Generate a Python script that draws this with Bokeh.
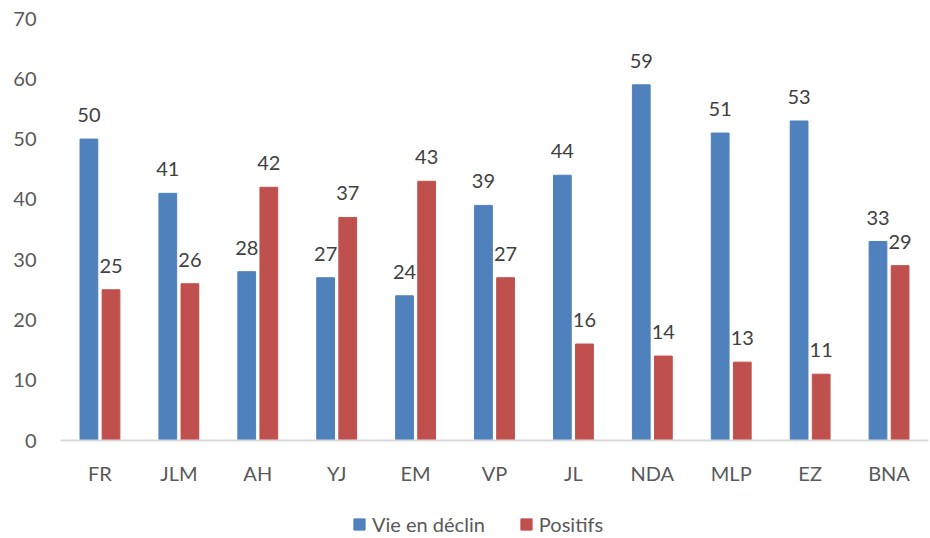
from bokeh.plotting import figure
from bokeh.layouts import column
from bokeh.models import FactorRange, Range1d, SingleIntervalTicker, Legend, LegendItem, ColumnDataSource
from bokeh.transform import dodge
from bokeh.core.properties import value
from bokeh.embed import file_html
from bokeh.resources import INLINE

categories = ["FR", "JLM", "AH", "YJ", "EM", "VP", "JL", "NDA", "MLP", "EZ", "BNA"]
vie_en_declin = [50, 41, 28, 27, 24, 39, 44, 59, 51, 53, 33]
positifs = [25, 26, 42, 37, 43, 27, 16, 14, 13, 11, 29]
series_names = ["Vie en déclin", "Positifs"]
y_ticks = [0, 10, 20, 30, 40, 50, 60, 70]

BLUE = "#4F81BD"
RED = "#C0504D"
FONT = "Lato"
FS = "20px"

src = ColumnDataSource(dict(
    cat=categories,
    v1=vie_en_declin,
    v2=positifs,
    t1=[str(v) for v in vie_en_declin],
    t2=[str(v) for v in positifs],
))

p = figure(width=930, height=500, x_range=FactorRange(*categories),
           y_range=Range1d(y_ticks[0], y_ticks[-1]),
           output_backend="svg", toolbar_location=None,
           min_border_left=60, min_border_right=2, min_border_top=18, min_border_bottom=60)
p.outline_line_color = None
p.xgrid.grid_line_color = None
p.ygrid.grid_line_color = None

p.vbar(x=dodge("cat", -0.14, range=p.x_range), top="v1", width=0.225, source=src,
       fill_color=BLUE, line_color=BLUE)
p.vbar(x=dodge("cat", 0.14, range=p.x_range), top="v2", width=0.225, source=src,
       fill_color=RED, line_color=RED)

for col, off in (("v1", -0.14), ("v2", 0.14)):
    p.text(x=dodge("cat", off, range=p.x_range), y=col, text="t" + col[1], source=src,
           text_align="center", text_baseline="bottom", y_offset=-17,
           text_font=value(FONT), text_font_size=FS, text_color="#404040")

p.yaxis.ticker = SingleIntervalTicker(interval=10)
p.yaxis.axis_line_color = None
p.yaxis.major_tick_line_color = None
p.yaxis.major_tick_out = 0
p.yaxis.minor_tick_line_color = None
p.yaxis.major_label_standoff = 20
p.yaxis.major_label_text_font = FONT
p.yaxis.major_label_text_font_size = FS
p.yaxis.major_label_text_color = "#595959"

p.xaxis.axis_line_color = "#D9D9D9"
p.xaxis.axis_line_width = 2
p.xaxis.major_tick_line_color = None
p.xaxis.major_tick_out = 0
p.xaxis.minor_tick_line_color = None
p.xaxis.major_label_standoff = 20
p.xaxis.major_label_text_font = FONT
p.xaxis.major_label_text_font_size = FS
p.xaxis.major_label_text_color = "#595959"

# legend strip
pl = figure(width=930, height=38, x_range=Range1d(0, 1), y_range=Range1d(0, 1),
            output_backend="svg", toolbar_location=None,
            min_border_left=0, min_border_right=0, min_border_top=0, min_border_bottom=0)
pl.axis.visible = False
pl.grid.visible = False
pl.outline_line_color = None
hidden = ColumnDataSource(dict(x=[-10], top=[-10]))
l1 = pl.vbar(x="x", top="top", bottom=-11, width=0.1, source=hidden, fill_color=BLUE, line_color=BLUE)
l2 = pl.vbar(x="x", top="top", bottom=-11, width=0.1, source=hidden, fill_color=RED, line_color=RED)
legend = Legend(items=[LegendItem(label=series_names[0], renderers=[l1]),
                       LegendItem(label=series_names[1], renderers=[l2])],
                orientation="horizontal", location=(292, 2),
                label_text_font=FONT, label_text_font_size=FS, label_text_color="#595959",
                glyph_width=14, glyph_height=14, spacing=34, label_standoff=6,
                border_line_color=None, background_fill_alpha=0,
                padding=0, margin=0)
pl.add_layout(legend, "center")

open("out.html", "w").write(file_html(column(p, pl, spacing=0), INLINE))
